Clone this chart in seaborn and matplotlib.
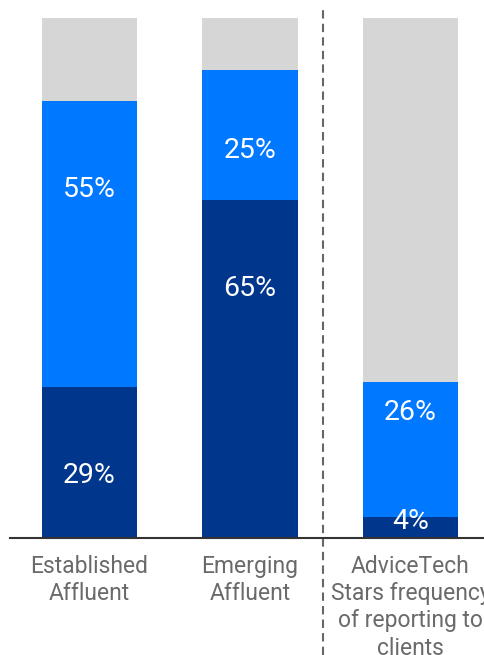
import matplotlib
matplotlib.use("Agg")
import matplotlib.pyplot as plt
import seaborn as sns
import pandas as pd
import numpy as np

categories = ["Established\nAffluent", "Emerging\nAffluent",
              "AdviceTech\nStars frequency\nof reporting to\nclients"]
dark_vals = [29, 65, 4]
blue_vals = [55, 25, 26]
total_vals = [100, 100, 100]
dark_labels = ["29%", "65%", "4%"]
blue_labels = ["55%", "25%", "26%"]
dark_label_pos = [12.1, 47.9, 3.1]
blue_label_pos = [67.1, 74.6, 24.2]

sns.set_theme(style="white")
plt.rcParams['font.family'] = ['Roboto', 'DejaVu Sans']

DARK = "#00368C"
BLUE = "#0078FF"
GRAY = "#D6D6D6"
TXT = "#6a6a6a"

df = pd.DataFrame({"cat": categories, "dark": dark_vals, "blue": blue_vals,
                   "total": total_vals})
df["stack"] = df["dark"] + df["blue"]

fig = plt.figure(figsize=(4.85, 6.55), dpi=100)
ax = fig.add_axes([10/485, (655-538)/655, 475/485, 520/655])

w = 0.592
sns.barplot(data=df, x="cat", y="total", color=GRAY, width=w, ax=ax,
            saturation=1, linewidth=0)
sns.barplot(data=df, x="cat", y="stack", color=BLUE, width=w, ax=ax,
            saturation=1, linewidth=0)
sns.barplot(data=df, x="cat", y="dark", color=DARK, width=w, ax=ax,
            saturation=1, linewidth=0)

for i in range(len(categories)):
    ax.text(i, dark_label_pos[i], dark_labels[i], ha="center", va="center",
            color="white", fontsize=20.5, fontweight="normal")
    ax.text(i, blue_label_pos[i], blue_labels[i], ha="center", va="center",
            color="white", fontsize=20.5, fontweight="normal")

ax.set_ylim(0, 100)
ax.set_xlim(-0.495, 2.464)
ax.set_xlabel("")
ax.set_ylabel("")
ax.set_yticks([])
for s in ["top", "right", "left"]:
    ax.spines[s].set_visible(False)
ax.spines["bottom"].set_color("#333333")
ax.spines["bottom"].set_linewidth(1.5)
ax.tick_params(axis="x", length=0, pad=12)
ax.set_xticks(range(len(categories)))
ax.set_xticklabels(categories, fontsize=16.5, color=TXT, fontweight="normal",
                   linespacing=1.24, va="top")

ax.axvline(1.455, ymin=-0.225, ymax=1.016, clip_on=False, color="#666666",
           linestyle=(0, (4, 2.5)), linewidth=1.5)

fig.savefig("out.png", dpi=100)
